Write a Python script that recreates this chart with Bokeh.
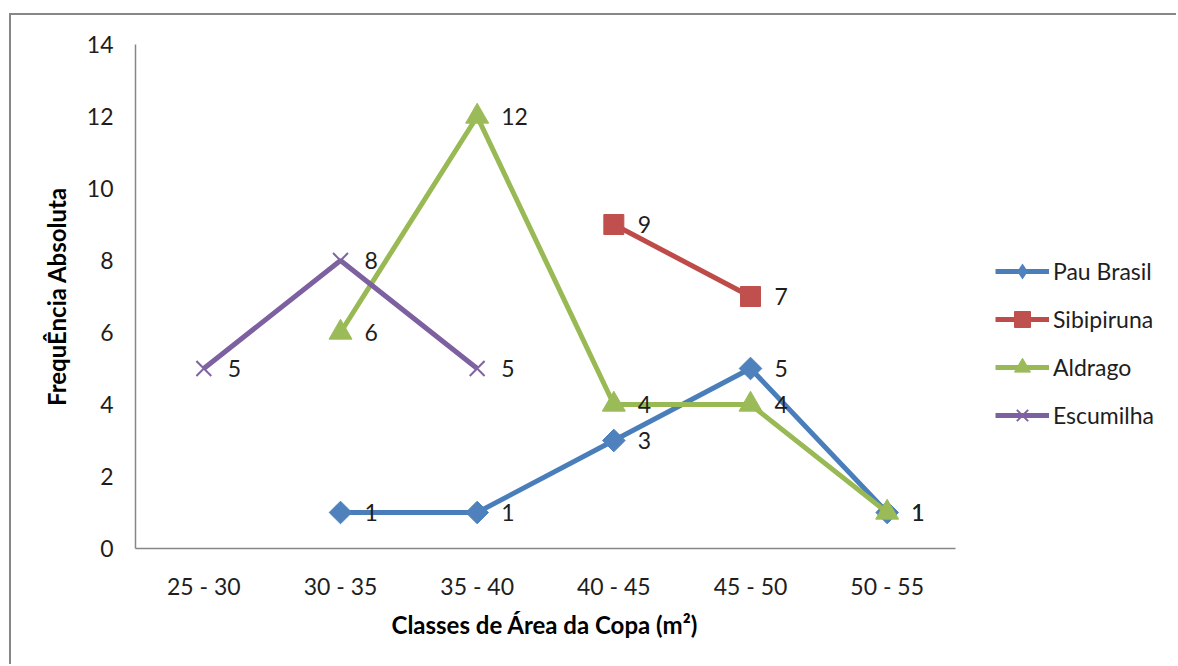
import math

from bokeh.core.properties import value
from bokeh.embed import file_html
from bokeh.models import ColumnDataSource, FixedTicker, Legend, LegendItem, Range1d, Title
from bokeh.plotting import figure
from bokeh.resources import INLINE

# Crown-area classes (m²) and absolute frequency per species
classes = ["25 - 30", "30 - 35", "35 - 40", "40 - 45", "45 - 50", "50 - 55"]
pau_brasil = [None, 1, 1, 3, 5, 1]
sibipiruna = [None, None, None, 9, 7, None]
aldrago = [None, 6, 12, 4, 4, 1]
escumilha = [5, 8, 5, None, None, None]
y_ticks = [0, 2, 4, 6, 8, 10, 12, 14]

FONT = "Lato"
TEXT = "#1e1e1e"
AXIS = "#868686"

# chart area sits inside a grey frame offset from the page corner
OFF_X, OFF_Y, BW = 9, 13, 2
FIG_W, FIG_H = 1178 - OFF_X - BW, 666 - OFF_Y - BW
LEFT, TOP, BOTTOM = 135 - OFF_X - BW, 44 - OFF_Y - BW, 118
PLOT_W = 820                      # width of the category axis
legend_room = FIG_W - LEFT - PLOT_W
n = len(classes)
x_end = n - 0.5 + legend_room * n / PLOT_W

p = figure(
    x_range=Range1d(-0.5, x_end),
    y_range=Range1d(0, 14),
    width=FIG_W,
    height=FIG_H,
    output_backend="svg",
    toolbar_location=None,
    min_border_left=LEFT,
    min_border_right=0,
    min_border_top=TOP,
    min_border_bottom=BOTTOM,
    background_fill_color="white",
    border_fill_color="white",
    styles={
        "margin-left": f"{OFF_X}px",
        "margin-top": f"{OFF_Y}px",
        "border-left": f"{BW}px solid {AXIS}",
        "border-top": f"{BW}px solid {AXIS}",
    },
)
p.outline_line_color = None
p.xgrid.grid_line_color = None
p.ygrid.grid_line_color = None

# axes
for ax in (p.xaxis[0], p.yaxis[0]):
    ax.axis_line_color = AXIS
    ax.axis_line_width = 1.5
    ax.major_tick_line_color = None
    ax.minor_tick_line_color = None
    ax.major_tick_out = 0
    ax.major_tick_in = 0
    ax.major_label_text_font = FONT
    ax.major_label_text_font_size = "23px"
    ax.major_label_text_color = TEXT
    ax.axis_label_text_font = FONT
    ax.axis_label_text_font_size = "24px"
    ax.axis_label_text_font_style = "bold"
    ax.axis_label_text_color = "black"

p.xaxis.ticker = FixedTicker(ticks=list(range(n)))
p.xaxis.major_label_overrides = {i: c for i, c in enumerate(classes)}
p.xaxis.bounds = (-0.5, n - 0.5)
p.xaxis.major_label_standoff = 23

# x title centred under the category axis only
p.add_layout(Title(text="Classes de Área da Copa (m²)", align="left", offset=256,
                   standoff=11, text_font=FONT, text_font_size="24px",
                   text_font_style="bold", text_color="black"), "below")

p.yaxis.ticker = FixedTicker(ticks=y_ticks)
p.yaxis.major_label_standoff = 22
p.yaxis.axis_label = "FrequÊncia Absoluta"
p.yaxis.axis_label_standoff = 13

series = [
    ("Pau Brasil", pau_brasil, "#4A7EBB", "#4F81BD", "square", math.pi / 4, 16),
    ("Sibipiruna", sibipiruna, "#BE4B48", "#C0504D", "square", 0, 20),
    ("Aldrago", aldrago, "#98B954", "#9BBB59", "triangle", 0, 23),
    ("Escumilha", escumilha, "#7D60A0", "#8064A2", "x", 0, 21),
]

items = []
label_sources = []
for name, vals, line_col, fill_col, marker, angle, size in series:
    idx = [i for i, v in enumerate(vals) if v is not None]
    ys = [vals[i] for i in idx]
    src = ColumnDataSource(dict(x=idx, y=ys, label=[str(v) for v in ys]))
    ln = p.line("x", "y", source=src, line_color=line_col, line_width=5)
    if marker == "x":
        mk = p.scatter("x", "y", source=src, marker="x", size=size,
                       line_color=fill_col, line_width=2)
    else:
        mk = p.scatter("x", "y", source=src, marker=marker, size=size, angle=angle,
                       fill_color=fill_col, line_color=fill_col, line_width=1)
    key = [ln, mk]
    if angle:
        # legend swatch for the rotated-square marker (zero size on the plot itself)
        key = [ln, p.scatter("x", "y", source=src, marker="diamond", size=0,
                             fill_color=fill_col, line_color=None)]
    items.append(LegendItem(label=name, renderers=key))
    label_sources.append(src)

# value labels on top of all series
for src in label_sources:
    p.text("x", "y", text="label", source=src, x_offset=24,
           text_align="left", text_baseline="middle",
           text_font=value(FONT), text_font_size="23px", text_color=TEXT)

legend = Legend(
    items=items,
    location=(995 - 135, 113),
    orientation="vertical",
    glyph_width=54,
    glyph_height=40,
    label_height=40,
    spacing=8,
    label_standoff=4,
    padding=0,
    margin=0,
    border_line_color=None,
    background_fill_alpha=0,
    label_text_font=FONT,
    label_text_font_size="23px",
    label_text_color=TEXT,
)
p.add_layout(legend, "center")

open("out.html", "w").write(file_html(p, INLINE))
